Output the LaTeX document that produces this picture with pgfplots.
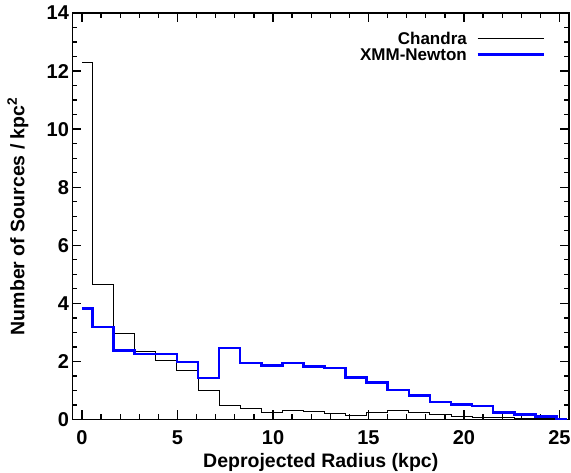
\documentclass[border=0pt]{standalone}
\usepackage{pgfplots}
\pgfplotsset{compat=1.18}
\usepackage{fontspec}
\setmainfont{Liberation Sans}
\definecolor{xmmblue}{RGB}{0,0,255}
\begin{document}
\begin{tikzpicture}
\useasboundingbox (-72.5pt,-53.5pt) rectangle (498.5pt,419.5pt);
\begin{axis}[
  scale only axis,
  width=496.5pt, height=406.5pt,
  xmin=-0.5, xmax=25.5, ymin=0, ymax=14,
  xtick={0,5,10,15,20,25},
  ytick={0,2,4,6,8,10,12,14},
  minor x tick num=4,
  minor y tick num=3,
  tick align=inside,
  xtick pos=both, ytick pos=both,
  major tick length=9pt, minor tick length=5pt,
  every tick/.style={black, line width=1.3pt},
  axis line style={line width=1.6pt},
  /pgf/number format/assume math mode=true,
  tick label style={font=\fontsize{20}{20}\selectfont\bfseries},
  xticklabel style={yshift=-8pt},
  label style={font=\fontsize{19.5}{20}\selectfont\bfseries},
  xlabel={Deprojected Radius (kpc)},
  ylabel={Number of Sources / kpc\textsuperscript{2}},
  xlabel style={at={(axis description cs:0.5,0)}, anchor=base, yshift=-48.5pt},
  ylabel style={at={(axis description cs:-0.1098,0.5)}, anchor=center},
  legend plot pos=right,
  legend cell align=right,
  legend style={draw=none, fill=none, font=\fontsize{17}{17}\selectfont\bfseries,
    at={(rel axis cs:0.958,0.962)}, anchor=north east, row sep=1.2pt,
    nodes={inner sep=1.5pt, text height=12.3pt, text depth=0pt}},
  legend image code/.code={\path (0pt,0pt); \draw[#1] (8pt,0pt) -- (74pt,0pt);},
  const plot mark mid,
]
\addplot[black, line width=0.9pt, mark=none] coordinates {
(0,12.30) (1.104,4.65) (2.208,2.97) (3.312,2.34) (4.416,2.02) (5.52,1.69)
(6.624,1.01) (7.728,0.47) (8.832,0.38) (9.936,0.25) (11.04,0.32) (12.144,0.28)
(13.248,0.22) (14.352,0.15) (15.456,0.23) (16.56,0.32) (17.664,0.23) (18.768,0.16)
(19.872,0.11) (20.976,0.07) (22.08,0.06) (23.184,0.04) (24.288,0.02) (25.392,0.01)
};
\addlegendentry{Chandra}
\addplot[xmmblue, line width=2.6pt, mark=none] coordinates {
(0,3.83) (1.104,3.18) (2.208,2.38) (3.312,2.26) (4.416,2.25) (5.52,1.98)
(6.624,1.43) (7.728,2.46) (8.832,1.94) (9.936,1.85) (11.04,1.94) (12.144,1.82)
(13.248,1.77) (14.352,1.44) (15.456,1.27) (16.56,1.01) (17.664,0.82) (18.768,0.60)
(19.872,0.51) (20.976,0.46) (22.08,0.25) (23.184,0.17) (24.288,0.11) (25.392,0.02)
};
\addlegendentry{XMM-Newton}
\end{axis}
\end{tikzpicture}
\end{document}
